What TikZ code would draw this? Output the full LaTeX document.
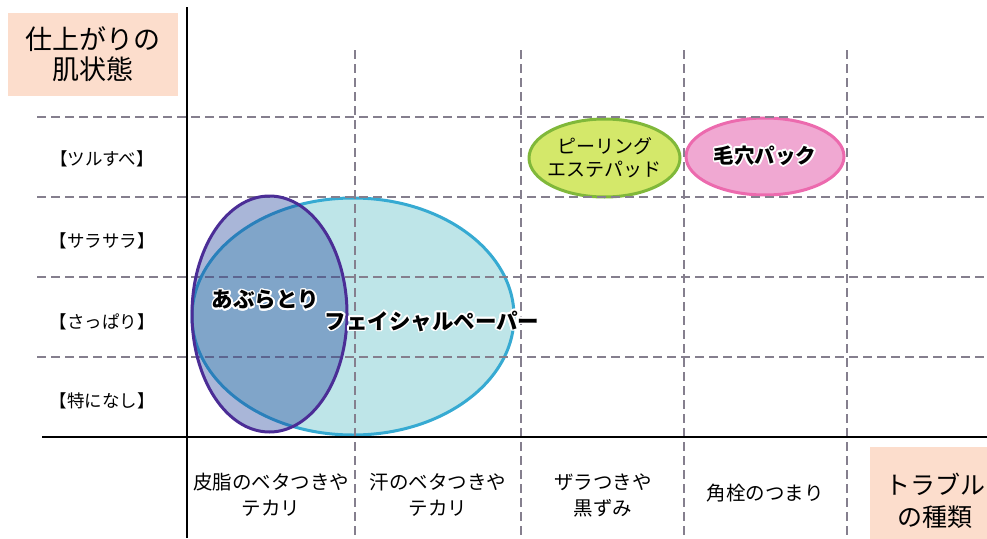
\documentclass[tikz,border=0pt]{standalone}
\usepackage{fontspec}
\setmainfont{Noto Sans CJK JP}
\usepackage{contour}
\contourlength{1.6pt}
\usetikzlibrary{positioning,calc,shapes.geometric}
\definecolor{gridgray}{HTML}{857F8E}
\definecolor{peach}{HTML}{FCDDCC}
\definecolor{oilrim}{HTML}{4B2D96}
\definecolor{oilfill}{HTML}{163A96}
\definecolor{paperrim}{HTML}{36AAD2}
\definecolor{paperfill}{HTML}{BEE5E8}
\definecolor{peelrim}{HTML}{80B83A}
\definecolor{peelfill}{HTML}{D4E86A}
\definecolor{packrim}{HTML}{EC6AAE}
\definecolor{packfill}{HTML}{F0A8D2}
\tikzset{
  gridline/.style={draw=gridgray,line width=2.8pt,dash pattern=on 9pt off 5pt},
  axisline/.style={draw=black,line width=2.6pt},
  titlebox/.style={fill=peach,inner sep=0pt,align=center},
  rowlabel/.style={inner sep=0pt,font=\fontsize{17.5}{20}\selectfont},
  collabel/.style={inner sep=0pt,align=center,font=\fontsize{19.5}{26}\selectfont},
  blob/.style 2 args={ellipse,draw=#1,fill=#2,line width=3pt,inner sep=0pt},
  tag/.style={inner sep=0pt,font=\bfseries\fontsize{21.5}{24}\selectfont}
}

\begin{document}
\begin{tikzpicture}[x=1pt,y=-1pt]
    \useasboundingbox (0,0) rectangle (987,538);

    \node[titlebox,minimum width=170pt,minimum height=83pt,font=\fontsize{27}{30}\selectfont] (ytitle) at (93,54) {仕上がりの\\肌状態};
    \node[titlebox,minimum width=130pt,minimum height=108pt,font=\fontsize{25}{32}\selectfont] (xtitle) at (935,501) {トラブル\\の種類};

    \node[blob={paperrim}{paperfill},minimum width=322pt,minimum height=237pt] (paper) at (353,316.5) {};
    \node[blob={peelrim}{peelfill},minimum width=151pt,minimum height=78pt] (peel) at (604.5,158) {};
    \node[blob={packrim}{packfill},minimum width=158pt,minimum height=77pt] (pack) at (765,156.5) {};

    \foreach \y in {117,197,277,357}
      \draw[gridline] (37,\y) -- (987,\y);
    \foreach \x in {355,521,684,847}
      \draw[gridline] (\x,50) -- (\x,538);

    \node[blob={oilrim}{oilfill},fill opacity=0.37,minimum width=155pt,minimum height=236pt] (abura) at (269.5,314) {};

    \draw[axisline] (187,7) -- (187,538);
    \draw[axisline] (42,437) -- (987,437);

    \node[rowlabel] (smooth) at (102,159) {【ツルすべ】};
    \node[rowlabel] (silky) at (102,241) {【サラサラ】};
    \node[rowlabel] (fresh) at (102,322) {【さっぱり】};
    \node[rowlabel] (none) at (102,401) {【特になし】};

    \node[collabel] (sebum) at (271,495) {皮脂のベタつきや\\テカリ};
    \node[collabel] (sweat) at (438,495) {汗のベタつきや\\テカリ};
    \node[collabel] (rough) at (603,495) {ザラつきや\\黒ずみ};
    \node[collabel] (plug) at (765,493) {角栓のつまり};

    \node[tag] (aburatag) at ($(abura.center)+(-4,-13)$) {\contour{white}{あぶらとり}};
    \node[tag] (papertag) at ($(paper.center)+(79,5.5)$) {\contour{white}{フェイシャルペーパー}};
    \node[collabel,font=\fontsize{19}{23}\selectfont] (peeltag) at (peel) {ピーリング\\エステパッド};
    \node[tag,font=\bfseries\fontsize{20.5}{24}\selectfont] (packtag) at (pack) {\contour{white}{毛穴パック}};
  \end{tikzpicture}
\end{document}
